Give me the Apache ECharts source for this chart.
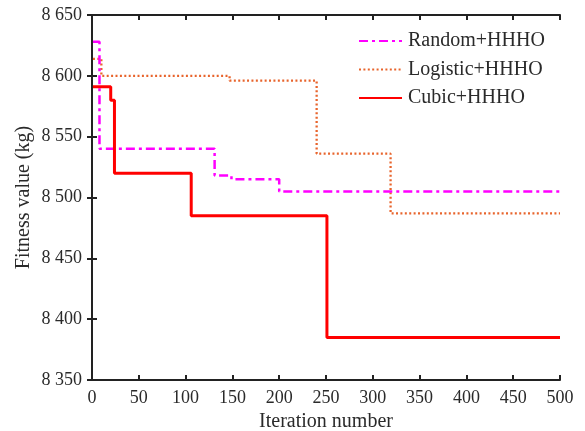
<!DOCTYPE html>
<html><head><meta charset="utf-8">
<script src="https://cdn.jsdelivr.net/npm/echarts@6/dist/echarts.min.js"></script>
<style>html,body{margin:0;padding:0;background:#fff}#c{width:585px;height:431px}</style>
</head><body><div id="c"></div>
<script>
const seriesNames = ['Random+HHHO', 'Logistic+HHHO', 'Cubic+HHHO'];
const randomIter = [1, 8, 131, 149, 200, 500];
const randomVal  = [8628, 8540, 8518, 8515, 8505, 8505];
const logisticIter = [1, 10, 147, 240, 319, 500];
const logisticVal  = [8614, 8600, 8596, 8536, 8487, 8487];
const cubicIter = [1, 20, 24, 106, 251, 500];
const cubicVal  = [8591, 8580, 8520, 8485, 8385, 8385];
const xTicks = [0, 50, 100, 150, 200, 250, 300, 350, 400, 450, 500];
const yTicks = [8350, 8400, 8450, 8500, 8550, 8600, 8650];

const zip = (a, b) => a.map((v, i) => [v, b[i]]);
const font = 'Liberation Serif';
const txt = '#2a2a2a';
const fmtY = v => String(v).replace(/\B(?=(\d{3})+(?!\d))/g, ' ');
const axisCommon = {
  axisLine: {show: true, lineStyle: {color: '#222', width: 2}},
  axisTick: {show: true, inside: true, length: 5, lineStyle: {color: '#222', width: 2}},
  splitLine: {show: false}
};
const chart = echarts.init(document.getElementById('c'));
chart.setOption({
  animation: false,
  grid: {left: 92, right: 25, top: 15, bottom: 51, containLabel: false, outerBoundsMode: 'none'},
  legend: {
    orient: 'vertical', left: 358, top: 31, padding: 0, itemWidth: 43, itemHeight: 14, itemGap: 8.5,
    itemStyle: {opacity: 0, borderWidth: 0},
    textStyle: {fontFamily: font, fontSize: 20, lineHeight: 20, color: txt, padding: [0, 0, 0, 1]},
    data: seriesNames
  },
  xAxis: [
    Object.assign({type: 'value', min: xTicks[0], max: xTicks[xTicks.length - 1], interval: 50,
      name: 'Iteration number', nameLocation: 'middle', nameGap: 24,
      nameTextStyle: {fontFamily: font, fontSize: 20, color: txt},
      axisLabel: {fontFamily: font, fontSize: 18, color: txt, margin: 9}}, axisCommon),
    Object.assign({type: 'value', position: 'top', min: xTicks[0], max: xTicks[xTicks.length - 1], interval: 50,
      axisLabel: {show: false}}, axisCommon)
  ],
  yAxis: [
    Object.assign({type: 'value', min: yTicks[0], max: yTicks[yTicks.length - 1], interval: 50,
      name: 'Fitness value (kg)', nameLocation: 'middle', nameGap: 58, nameMoveOverlap: false,
      nameTextStyle: {fontFamily: font, fontSize: 20, color: txt},
      axisLabel: {fontFamily: font, fontSize: 18, color: txt, margin: 10, formatter: fmtY}}, axisCommon),
    Object.assign({type: 'value', position: 'right', min: yTicks[0], max: yTicks[yTicks.length - 1], interval: 50,
      axisLabel: {show: false}}, axisCommon)
  ],
  series: [
    {name: seriesNames[0], type: 'line', step: 'end', showSymbol: false, symbol: 'none',
      data: zip(randomIter, randomVal), z: 3,
      lineStyle: {color: '#FF00FF', width: 2.5, type: [9, 4, 3, 4]}, itemStyle: {color: '#FF00FF'}},
    {name: seriesNames[1], type: 'line', step: 'end', showSymbol: false, symbol: 'none',
      data: zip(logisticIter, logisticVal), z: 2,
      lineStyle: {color: '#E8642C', width: 2.3, type: [2, 2.4]}, itemStyle: {color: '#E8642C'}},
    {name: seriesNames[2], type: 'line', step: 'end', showSymbol: false, symbol: 'none',
      data: zip(cubicIter, cubicVal), z: 4,
      lineStyle: {color: '#FF0000', width: 3}, itemStyle: {color: '#FF0000'}}
  ]
});
</script></body></html>
